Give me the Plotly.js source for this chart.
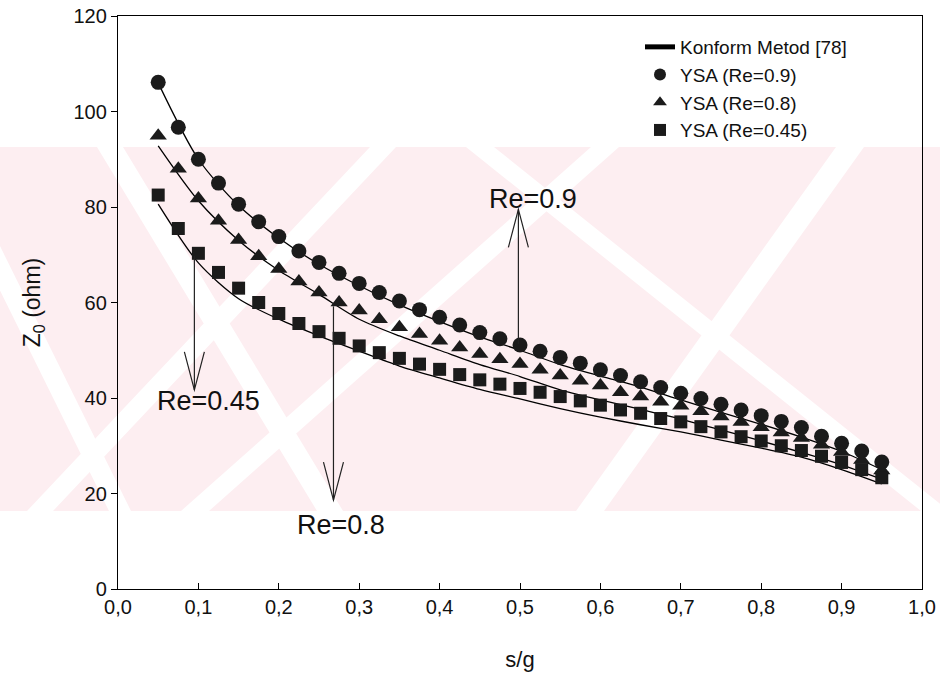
<!DOCTYPE html>
<html>
<head>
<meta charset="utf-8">
<script src="https://cdn.plot.ly/plotly-3.0.1.min.js"></script>
<style>
  html, body { margin: 0; padding: 0; background: #ffffff; }
  #chart { width: 940px; height: 680px; }
</style>
</head>
<body>
<div id="chart"></div>
<script>
// ---------- data ----------
const sgPoints = [0.05, 0.075, 0.1, 0.125, 0.15, 0.175, 0.2, 0.225, 0.25, 0.275,
  0.3, 0.325, 0.35, 0.375, 0.4, 0.425, 0.45, 0.475, 0.5, 0.525,
  0.55, 0.575, 0.6, 0.625, 0.65, 0.675, 0.7, 0.725, 0.75, 0.775,
  0.8, 0.825, 0.85, 0.875, 0.9, 0.925, 0.95];

const ysa09 = [106.1, 96.7, 90.0, 85.0, 80.6, 76.9, 73.8, 70.8, 68.4, 66.1,
  64.0, 62.1, 60.3, 58.5, 56.9, 55.3, 53.7, 52.4, 51.1, 49.8,
  48.5, 47.3, 45.9, 44.7, 43.4, 42.2, 41.0, 39.9, 38.7, 37.5,
  36.3, 35.1, 33.8, 32.0, 30.5, 28.9, 26.6];

const ysa08 = [94.9, 88.0, 81.8, 77.1, 73.1, 69.7, 67.0, 64.4, 62.1, 60.0,
  58.3, 56.5, 54.8, 53.4, 52.0, 50.6, 49.2, 48.1, 47.1, 45.9,
  44.7, 43.6, 42.6, 41.2, 40.3, 39.2, 38.4, 37.2, 36.1, 35.0,
  33.9, 32.8, 31.6, 30.2, 28.7, 27.0, 24.8];

const ysa045 = [82.5, 75.5, 70.3, 66.3, 63.0, 60.0, 57.7, 55.6, 53.9, 52.5,
  50.9, 49.5, 48.3, 47.1, 46.0, 44.9, 43.8, 42.9, 42.0, 41.2,
  40.3, 39.4, 38.5, 37.5, 36.8, 35.7, 35.0, 34.0, 32.9, 31.9,
  31.0, 30.0, 29.0, 27.8, 26.5, 25.0, 23.3];

const konformX = [0.05, 0.1, 0.15, 0.2, 0.25, 0.3, 0.35, 0.4, 0.45, 0.5,
  0.55, 0.6, 0.65, 0.7, 0.75, 0.8, 0.85, 0.9, 0.95];
const konform09 = [106.0, 90.0, 80.3, 73.5, 68.0, 63.5, 59.5, 56.0, 52.8, 50.0,
  47.0, 44.6, 42.3, 39.6, 37.0, 34.5, 31.8, 28.8, 25.0];
const konform08 = [92.8, 81.3, 73.0, 66.7, 61.7, 56.5, 53.0, 50.0, 47.0, 44.5,
  41.7, 39.6, 37.6, 35.6, 33.3, 31.0, 28.6, 26.0, 23.0];
const konform045 = [80.6, 68.3, 60.8, 56.5, 53.0, 49.8, 46.7, 44.2, 41.8, 39.8,
  37.8, 36.0, 34.4, 32.9, 31.2, 29.5, 27.6, 25.0, 22.0];

const seriesNames = ['Konform Metod [78]', 'YSA (Re=0.9)', 'YSA (Re=0.8)', 'YSA (Re=0.45)'];

const xTickVals = [0, 0.1, 0.2, 0.3, 0.4, 0.5, 0.6, 0.7, 0.8, 0.9, 1.0];
const xTickText = ['0,0', '0,1', '0,2', '0,3', '0,4', '0,5', '0,6', '0,7', '0,8', '0,9', '1,0'];
const yTickVals = [0, 20, 40, 60, 80, 100, 120];

// arrow annotations: label, arrow x, arrow start (marker), arrow tip, label position
const reLabels = ['Re=0.9', 'Re=0.45', 'Re=0.8'];
const reArrowX = [0.498, 0.095, 0.268];
const reArrowFrom = [51.3, 69.8, 59.2];
const reArrowTo = [79.5, 41.7, 18.6];
const reLabelX = [0.516, 0.113, 0.277];
const reLabelY = [81.6, 39.4, 13.3];

// ---------- geometry helpers ----------
const L = 118, R = 18, T = 16, B = 91;
const W = 940, H = 680;
const plotW = W - L - R, plotH = H - T - B;
const xRange = [0, 1], yRange = [0, 120];
const pxPerX = plotW / (xRange[1] - xRange[0]);
const pxPerY = plotH / (yRange[1] - yRange[0]);
function paperX(px) { return (px - L) / plotW; }
function paperY(py) { return (H - B - py) / plotH; }

const ink = '#1b1b1b';
const fontFam = 'Liberation Sans, Arial, Helvetica, sans-serif';

// ---------- traces ----------
const traces = [];
[konform09, konform08, konform045].forEach((ys, i) => {
  traces.push({
    x: konformX, y: ys, type: 'scatter', mode: 'lines',
    name: seriesNames[0], legendgroup: 'konform', showlegend: i === 0,
    line: {color: '#000000', width: 1.3, shape: 'spline', smoothing: 0.8},
    hoverinfo: 'skip'
  });
});
traces.push({x: sgPoints, y: ysa09, type: 'scatter', mode: 'markers', name: seriesNames[1],
  marker: {symbol: 'circle', size: 15, color: ink, line: {width: 0}}});
traces.push({x: sgPoints, y: ysa08, type: 'scatter', mode: 'markers', name: seriesNames[2],
  marker: {symbol: 'triangle-up', size: 15, color: ink, line: {width: 0}}});
traces.push({x: sgPoints, y: ysa045, type: 'scatter', mode: 'markers', name: seriesNames[3],
  marker: {symbol: 'square', size: 13, color: ink, line: {width: 0}}});

// ---------- watermark (decorative background) ----------
const pink = '#fdeef1';
const shapes = [];
const bandTop = 147, bandBot = 511;
shapes.push({type: 'rect', xref: 'paper', yref: 'paper', layer: 'below',
  x0: paperX(0), x1: paperX(940), y0: paperY(bandBot), y1: paperY(bandTop),
  fillcolor: pink, line: {width: 0}});
// [x at band top, x at band bottom, stripe width]
const stripes = [[110, 330, 26], [383, 40, 26], [605, 195, 28], [850, 590, 28], [480, 935, 28], [-60, 120, 22]];
stripes.forEach(s => {
  const [xt, xb, sw] = s;
  const p = 'M ' + paperX(xt - sw / 2) + ',' + paperY(bandTop) +
    ' L ' + paperX(xt + sw / 2) + ',' + paperY(bandTop) +
    ' L ' + paperX(xb + sw / 2) + ',' + paperY(bandBot) +
    ' L ' + paperX(xb - sw / 2) + ',' + paperY(bandBot) + ' Z';
  shapes.push({type: 'path', xref: 'paper', yref: 'paper', layer: 'below',
    path: p, fillcolor: '#ffffff', line: {width: 0}});
});

// ---------- arrows ----------
const headLenPx = 38, headHalfPx = 10;
const annotations = [];
reLabels.forEach((lab, i) => {
  const x = reArrowX[i], y0 = reArrowFrom[i], y1 = reArrowTo[i];
  const dir = y1 > y0 ? 1 : -1;
  const back = y1 - dir * headLenPx / pxPerY;
  const dx = headHalfPx / pxPerX;
  shapes.push({type: 'line', xref: 'x', yref: 'y', x0: x, x1: x, y0: y0, y1: y1,
    line: {color: '#222222', width: 1.2}});
  shapes.push({type: 'path', xref: 'x', yref: 'y',
    path: 'M ' + (x - dx) + ',' + back + ' L ' + x + ',' + y1 + ' L ' + (x + dx) + ',' + back,
    line: {color: '#222222', width: 1.2}});
  annotations.push({x: reLabelX[i], y: reLabelY[i], xref: 'x', yref: 'y', text: lab,
    showarrow: false, xanchor: 'center', yanchor: 'middle',
    font: {family: fontFam, size: 27, color: '#111111'}});
});

const layout = {
  width: W, height: H,
  margin: {l: L, r: R, t: T, b: B, pad: 0},
  paper_bgcolor: '#ffffff',
  plot_bgcolor: 'rgba(0,0,0,0)',
  font: {family: fontFam, size: 20, color: '#111111'},
  showlegend: true,
  legend: {x: paperX(640), y: paperY(28), xanchor: 'left', yanchor: 'top',
    bgcolor: 'rgba(0,0,0,0)', borderwidth: 0, itemsizing: 'constant',
    font: {family: fontFam, size: 19, color: '#111111'}, tracegroupgap: 0},
  xaxis: {
    range: xRange, tickvals: xTickVals, ticktext: xTickText,
    ticks: 'inside', ticklen: 6, tickcolor: '#000', tickwidth: 1,
    showline: true, linecolor: '#000', linewidth: 1.2, mirror: true,
    showgrid: false, zeroline: false,
    tickfont: {family: fontFam, size: 20, color: '#111'},
    title: {text: 's/g', standoff: 34, font: {family: fontFam, size: 22, color: '#111'}}
  },
  yaxis: {
    range: yRange, tickvals: yTickVals,
    ticks: 'outside', ticklen: 6, tickcolor: '#000', tickwidth: 1,
    showline: true, linecolor: '#000', linewidth: 1.2, mirror: true,
    showgrid: false, zeroline: false,
    tickfont: {family: fontFam, size: 20, color: '#111'},
    title: {text: 'Z<sub>0</sub> (ohm)', standoff: 26, font: {family: fontFam, size: 23, color: '#111'}}
  },
  shapes: shapes,
  annotations: annotations
};

Plotly.newPlot('chart', traces, layout, {displayModeBar: false, staticPlot: true});
</script>
</body>
</html>
